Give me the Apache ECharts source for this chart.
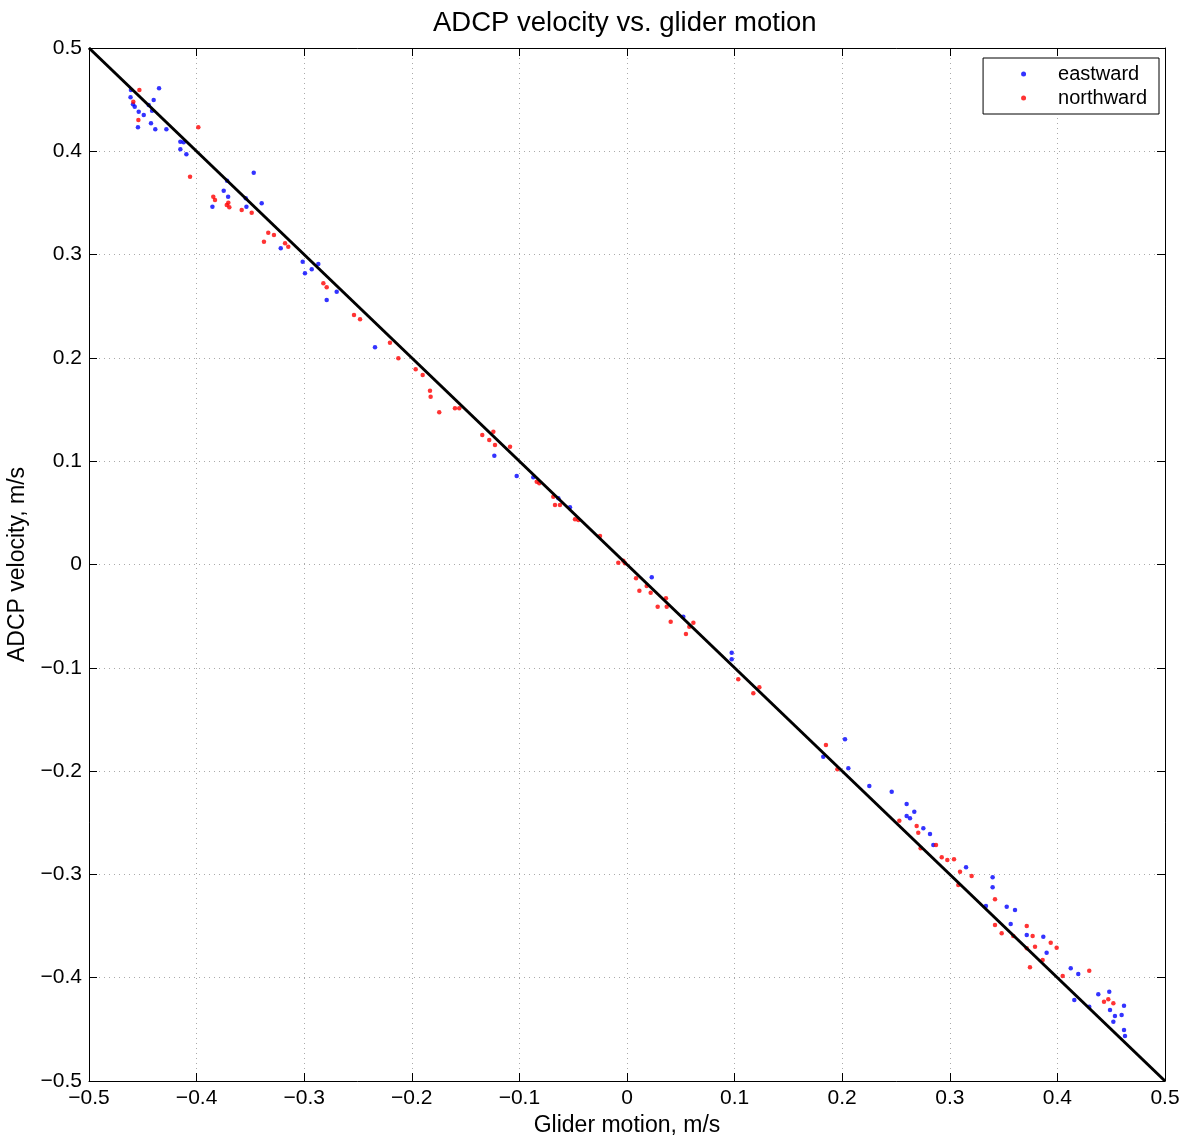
<!DOCTYPE html>
<html>
<head>
<meta charset="utf-8">
<script src="https://cdn.jsdelivr.net/npm/echarts@6/dist/echarts.min.js"></script>
<style>html,body{margin:0;padding:0;background:#fff}#chart{width:1184px;height:1137px}</style>
</head>
<body>
<div id="chart"></div>
<script>
const eastX = [-0.4610,-0.4614,-0.4591,-0.4575,-0.4538,-0.4545,-0.4491,-0.4424,-0.4384,-0.4349,-0.4399,-0.4445,-0.4414,-0.4281,-0.4151,-0.4120,-0.4151,-0.4095,-0.3717,-0.3469,-0.3748,-0.3707,-0.3853,-0.3543,-0.3537,-0.3395,-0.3218,-0.3014,-0.2993,-0.2869,-0.2930,-0.2791,-0.2698,-0.2342,-0.1233,-0.1025,-0.0871,-0.0638,-0.0530,0.0230,0.0523,0.0973,0.0973,0.1824,0.2026,0.2057,0.2252,0.2460,0.2599,0.2670,0.2599,0.2630,0.2754,0.2816,0.2847,0.3151,0.3398,0.3398,0.3336,0.3529,0.3606,0.3566,0.3715,0.3869,0.3900,0.4124,0.4194,0.4157,0.4380,0.4482,0.4489,0.4535,0.4597,0.4619,0.4520,0.4619,0.4628,0.4296];
const eastY = [0.4594,0.4523,0.4455,0.4432,0.4383,0.4232,0.4351,0.4271,0.4213,0.4610,0.4497,0.4448,0.4393,0.4213,0.4093,0.4087,0.4019,0.3971,0.3716,0.3793,0.3619,0.3561,0.3464,0.3545,0.3464,0.3497,0.3061,0.2931,0.2819,0.2909,0.2858,0.2560,0.2641,0.2103,0.1053,0.0857,0.0844,0.0641,0.0554,-0.0124,-0.0505,-0.0854,-0.0918,-0.1861,-0.1692,-0.1973,-0.2144,-0.2199,-0.2318,-0.2393,-0.2435,-0.2457,-0.2554,-0.2609,-0.2715,-0.2931,-0.3028,-0.3125,-0.3306,-0.3313,-0.3345,-0.3480,-0.3587,-0.3603,-0.3758,-0.3909,-0.3964,-0.4216,-0.4161,-0.4136,-0.4313,-0.4371,-0.4361,-0.4271,-0.4426,-0.4506,-0.4564,-0.4281];
const northX = [-0.4532,-0.4588,-0.4541,-0.3984,-0.4061,-0.3845,-0.3829,-0.3720,-0.3696,-0.3705,-0.3581,-0.3488,-0.3334,-0.3281,-0.3374,-0.3178,-0.3148,-0.2822,-0.2791,-0.2537,-0.2481,-0.2203,-0.2125,-0.1964,-0.1899,-0.1831,-0.1825,-0.1745,-0.1599,-0.1559,-0.1345,-0.1280,-0.1242,-0.1227,-0.1087,-0.0839,-0.0815,-0.0685,-0.0669,-0.0623,-0.0483,-0.0452,-0.0251,-0.0081,-0.0034,-0.0019,0.0084,0.0115,0.0183,0.0220,0.0285,0.0362,0.0369,0.0406,0.0548,0.0579,0.0617,0.1034,0.1174,0.1230,0.1849,0.1955,0.2531,0.2707,0.2692,0.2729,0.2872,0.2925,0.2977,0.3039,0.3095,0.3203,0.3079,0.3420,0.3420,0.3482,0.3590,0.3715,0.3770,0.3715,0.3792,0.3745,0.3863,0.3938,0.3993,0.4049,0.4296,0.4433,0.4520,0.4473];
const northY = [0.4594,0.4480,0.4303,0.4232,0.3754,0.3561,0.3529,0.3480,0.3458,0.3503,0.3432,0.3406,0.3212,0.3190,0.3125,0.3109,0.3076,0.2722,0.2683,0.2415,0.2374,0.2147,0.1996,0.1890,0.1834,0.1683,0.1625,0.1473,0.1512,0.1512,0.1254,0.1205,0.1286,0.1157,0.1140,0.0802,0.0786,0.0656,0.0576,0.0576,0.0437,0.0431,0.0276,0.0017,0.0037,0.0012,-0.0134,-0.0254,-0.0208,-0.0273,-0.0409,-0.0327,-0.0409,-0.0554,-0.0673,-0.0602,-0.0563,-0.1111,-0.1247,-0.1189,-0.1747,-0.1983,-0.2480,-0.2596,-0.2531,-0.2747,-0.2715,-0.2834,-0.2861,-0.2854,-0.2974,-0.3016,-0.3103,-0.3241,-0.3490,-0.3570,-0.3597,-0.3500,-0.3597,-0.3716,-0.3700,-0.3900,-0.3829,-0.3661,-0.3710,-0.3984,-0.3932,-0.4232,-0.4248,-0.4209];
const lineX = [-0.5, 0.5];
const lineY = [0.5, -0.5];
const titleText = 'ADCP velocity vs. glider motion';
const xLabel = 'Glider motion, m/s';
const yLabel = 'ADCP velocity, m/s';

const zip = (a, b) => a.map((v, i) => [v, b[i]]);
const fmt = v => { const r = Math.round(v * 10) / 10; return r === 0 ? '0' : String(r).replace('-', '\u2212'); };
const font = 'Liberation Sans, Arial, sans-serif';

const chart = echarts.init(document.getElementById('chart'));
const baseAxis = {
  min: -0.5, max: 0.5, interval: 0.1,
  axisLine: { show: true, onZero: false, lineStyle: { color: '#000', width: 1 } },
  axisTick: { show: true, inside: true, length: 8, lineStyle: { color: '#000' } }
};
chart.setOption({
  animation: false,
  backgroundColor: '#fff',
  title: { text: titleText, left: 428, top: 4, textStyle: { fontFamily: font, fontSize: 27.5, fontWeight: 'normal', color: '#000' } },
  grid: { left: 89, right: 19, top: 48, bottom: 56, outerBoundsMode: 'none', containLabel: false },
  legend: {
    orient: 'vertical', right: 25, top: 58,
    data: ['eastward', 'northward'],
    borderColor: '#000', borderWidth: 1, backgroundColor: '#fff',
    padding: [6, 12, 6, 38], itemGap: 4, itemWidth: 5, itemHeight: 5,
    icon: 'circle',
    textStyle: { fontFamily: font, fontSize: 20, color: '#000', padding: [0, 0, 0, 27] }
  },
  xAxis: [
    Object.assign({}, baseAxis, {
      type: 'value', position: 'bottom',
      name: xLabel, nameLocation: 'middle', nameGap: 32,
      nameTextStyle: { fontFamily: font, fontSize: 23, color: '#000' },
      axisLabel: { formatter: fmt, fontFamily: font, fontSize: 21, color: '#000', margin: 7 },
      splitLine: { show: true, lineStyle: { type: [1, 4], color: '#aaa' } }
    }),
    Object.assign({}, baseAxis, {
      type: 'value', position: 'top', axisLabel: { show: false }, splitLine: { show: false }
    })
  ],
  yAxis: [
    Object.assign({}, baseAxis, {
      type: 'value', position: 'left',
      name: yLabel, nameLocation: 'middle', nameGap: 56, nameRotate: 90,
      nameTextStyle: { fontFamily: font, fontSize: 23, color: '#000' },
      axisLabel: { formatter: fmt, fontFamily: font, fontSize: 21, color: '#000', margin: 7 },
      splitLine: { show: true, lineStyle: { type: [1, 4], color: '#aaa' } }
    }),
    Object.assign({}, baseAxis, {
      type: 'value', position: 'right', axisLabel: { show: false }, splitLine: { show: false }
    })
  ],
  series: [
    { name: 'eastward', type: 'scatter', data: zip(eastX, eastY), symbol: 'circle', symbolSize: 4.5,
      itemStyle: { color: '#0000ff' }, z: 3 },
    { name: 'northward', type: 'scatter', data: zip(northX, northY), symbol: 'circle', symbolSize: 4.5,
      itemStyle: { color: '#ff0000' }, z: 4 },
    { name: 'fit', type: 'line', data: zip(lineX, lineY), symbol: 'none',
      lineStyle: { color: '#000', width: 3 }, z: 5, silent: true }
  ]
});
</script>
</body>
</html>
